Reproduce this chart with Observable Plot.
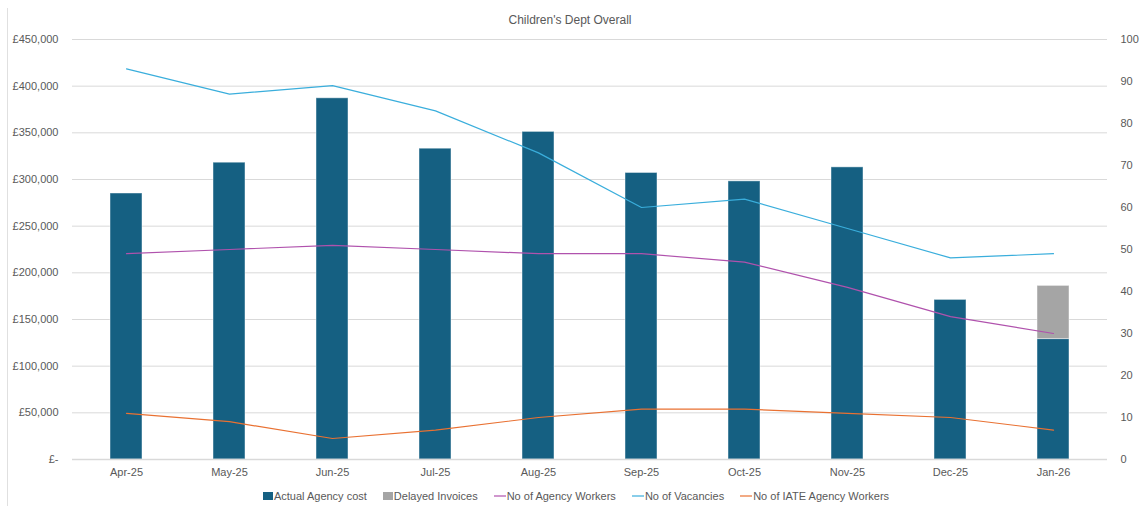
<!DOCTYPE html>
<html>
<head>
<meta charset="utf-8">
<script src="https://cdn.jsdelivr.net/npm/d3@7"></script>
<script src="https://cdn.jsdelivr.net/npm/@observablehq/plot@0.6"></script>
<style>
  html, body { margin: 0; padding: 0; background: #fff; }
  #wrap { position: relative; width: 1140px; height: 506px; font-family: "Liberation Sans", Arial, sans-serif; color: #595959; }
  #title { height: 30px; box-sizing: border-box; padding-top: 10px; line-height: 20px; text-align: center; font-size: 12px; }
  #legend { height: 21px; display: flex; justify-content: center; align-items: center; font-size: 11px; padding-left: 12px; }
  .item { display: flex; align-items: center; margin: 0 8px; }
  .sq { width: 10px; height: 8px; margin-right: 1px; }
  .ln { width: 12px; height: 2px; margin-right: 1px; }
  #edge { position: absolute; left: 7px; top: 8px; width: 1px; height: 498px; background: #e0e0e0; }
</style>
</head>
<body>
<div id="wrap">
  <div id="edge"></div>
  <div id="title">Children's Dept Overall</div>
  <div id="chart"></div>
  <div id="legend"></div>
</div>
<script>
const months = ["Apr-25","May-25","Jun-25","Jul-25","Aug-25","Sep-25","Oct-25","Nov-25","Dec-25","Jan-26"];
const actualCost = [285000, 318000, 387000, 333000, 351000, 307000, 298000, 313000, 171000, 129000];
const delayedInvoices = [0, 0, 0, 0, 0, 0, 0, 0, 0, 57000];
const agencyWorkers = [49, 50, 51, 50, 49, 49, 47, 41, 34, 30];
const vacancies = [93, 87, 89, 83, 73, 60, 62, 55, 48, 49];
const iateWorkers = [11, 9, 5, 7, 10, 12, 12, 11, 10, 7];
const leftTicks = [0, 50000, 100000, 150000, 200000, 250000, 300000, 350000, 400000, 450000];
const rightTicks = [0, 10, 20, 30, 40, 50, 60, 70, 80, 90, 100];
const barSeries = ["Actual Agency cost", "Delayed Invoices"];
const barColors = ["#156082", "#A5A5A5"];
const lineSeries = ["No of Agency Workers", "No of Vacancies", "No of IATE Agency Workers"];
const lineColors = ["#B052AD", "#3AAEDC", "#E97132"];

const K = 450000 / 100; // right axis (count) to left axis (£) ratio

const barRows = months.flatMap((m, i) => [
  {month: m, series: barSeries[0], value: actualCost[i]},
  {month: m, series: barSeries[1], value: delayedInvoices[i]}
]);
const lineData = [agencyWorkers, vacancies, iateWorkers];
const lineRows = lineSeries.flatMap((s, j) => months.map((m, i) => ({month: m, series: s, v: lineData[j][i] * K})));

const fmtLeft = d => d === 0 ? "£-" : "£" + d3.format(",")(d);

const chart = Plot.plot({
  width: 1140,
  height: 455,
  marginTop: 9,
  marginBottom: 26,
  marginLeft: 72,
  marginRight: 33,
  style: {fontFamily: '"Liberation Sans", Arial, sans-serif', fontSize: "11px", color: "#595959", background: "#fff"},
  x: {domain: months, paddingInner: 0.685, paddingOuter: 0.3425},
  y: {domain: [0, 450000]},
  color: {domain: barSeries, range: barColors},
  marks: [
    Plot.gridY(leftTicks, {stroke: "#d9d9d9", strokeOpacity: 1}),
    Plot.barY(barRows, {x: "month", y: "value", fill: "series", stroke: "#ffffff", strokeOpacity: 0.45, strokeWidth: 1}),
    Plot.ruleY([0], {stroke: "#d9d9d9", strokeWidth: 1.5}),
    Plot.lineY(lineRows, {x: "month", y: "v", z: "series", stroke: d => lineColors[lineSeries.indexOf(d.series)], strokeWidth: 1.2, curve: "linear"}),
    Plot.axisX({tickSize: 0, tickPadding: 9, label: null}),
    Plot.axisY(leftTicks, {anchor: "left", tickSize: 0, tickPadding: 14, tickFormat: fmtLeft, label: null}),
    Plot.axisY(rightTicks.map(v => v * K), {anchor: "right", tickSize: 0, tickPadding: 13, tickFormat: d => String(Math.round(d / K)), label: null})
  ]
});
document.getElementById("chart").appendChild(chart);

const legend = document.getElementById("legend");
barSeries.forEach((s, i) => {
  const it = document.createElement("div");
  it.className = "item";
  it.innerHTML = `<span class="sq" style="background:${barColors[i]}"></span><span>${s}</span>`;
  legend.appendChild(it);
});
lineSeries.forEach((s, i) => {
  const it = document.createElement("div");
  it.className = "item";
  it.innerHTML = `<span class="ln" style="background:${lineColors[i]};opacity:0.6"></span><span>${s}</span>`;
  legend.appendChild(it);
});
</script>
</body>
</html>
